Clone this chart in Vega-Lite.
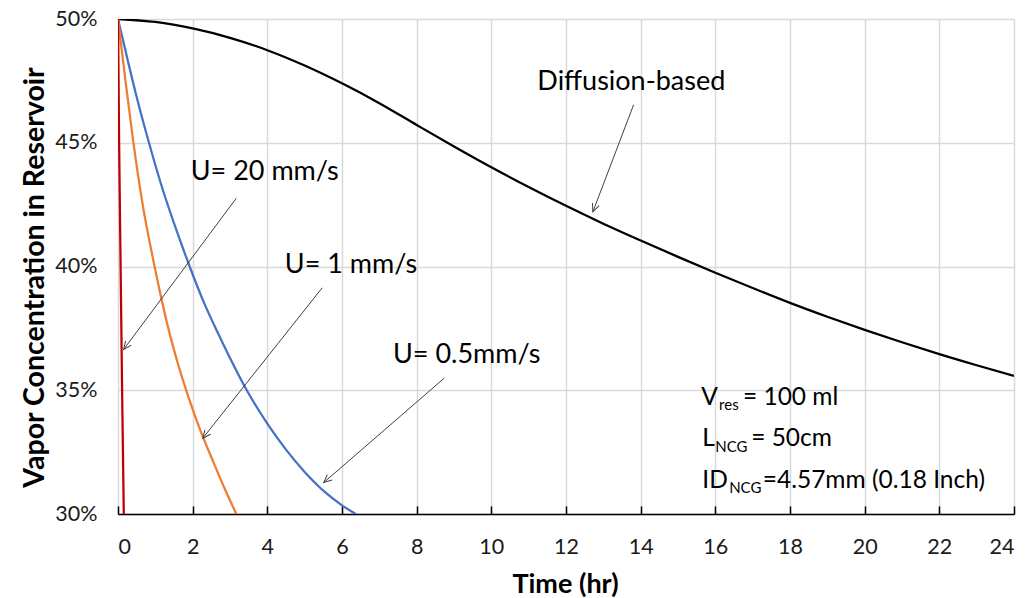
{
  "$schema": "https://vega.github.io/schema/vega-lite/v6.json",
  "width": 896,
  "height": 495,
  "autosize": {"type": "none"},
  "padding": {"left": 118, "top": 19, "right": 13, "bottom": 84},
  "background": "white",
  "config": {
    "view": {"stroke": null},
    "font": "Lato",
    "axis": {
      "gridColor": "#D9D9D9",
      "gridWidth": 1.5,
      "labelFont": "Lato",
      "labelFontSize": 21.5,
      "labelColor": "#1a1a1a",
      "titleFont": "Lato",
      "titleFontSize": 27,
      "titleFontWeight": "bold",
      "titleColor": "#000000"
    }
  },
  "datasets": {
    "curves": [
      {"series": "Diffusion-based", "t": 0, "c": 50},
      {"series": "Diffusion-based", "t": 1, "c": 49.88},
      {"series": "Diffusion-based", "t": 2, "c": 49.62},
      {"series": "Diffusion-based", "t": 3, "c": 49.24},
      {"series": "Diffusion-based", "t": 4, "c": 48.74},
      {"series": "Diffusion-based", "t": 5, "c": 48.12},
      {"series": "Diffusion-based", "t": 6, "c": 47.4},
      {"series": "Diffusion-based", "t": 7, "c": 46.6},
      {"series": "Diffusion-based", "t": 8, "c": 45.72},
      {"series": "Diffusion-based", "t": 9, "c": 44.85},
      {"series": "Diffusion-based", "t": 10, "c": 44.01},
      {"series": "Diffusion-based", "t": 11, "c": 43.21},
      {"series": "Diffusion-based", "t": 12, "c": 42.45},
      {"series": "Diffusion-based", "t": 13, "c": 41.73},
      {"series": "Diffusion-based", "t": 14, "c": 41.05},
      {"series": "Diffusion-based", "t": 15, "c": 40.39},
      {"series": "Diffusion-based", "t": 16, "c": 39.75},
      {"series": "Diffusion-based", "t": 17, "c": 39.13},
      {"series": "Diffusion-based", "t": 18, "c": 38.53},
      {"series": "Diffusion-based", "t": 19, "c": 37.97},
      {"series": "Diffusion-based", "t": 20, "c": 37.44},
      {"series": "Diffusion-based", "t": 21, "c": 36.94},
      {"series": "Diffusion-based", "t": 22, "c": 36.46},
      {"series": "Diffusion-based", "t": 23, "c": 36.01},
      {"series": "Diffusion-based", "t": 24, "c": 35.58},
      {"series": "U=0.5", "t": 0, "c": 50},
      {"series": "U=0.5", "t": 0.25, "c": 48.4},
      {"series": "U=0.5", "t": 0.5, "c": 46.85},
      {"series": "U=0.5", "t": 0.83, "c": 45.0},
      {"series": "U=0.5", "t": 1.2, "c": 43.1},
      {"series": "U=0.5", "t": 1.5, "c": 41.75},
      {"series": "U=0.5", "t": 1.92, "c": 40.0},
      {"series": "U=0.5", "t": 2.3, "c": 38.55},
      {"series": "U=0.5", "t": 2.68, "c": 37.3},
      {"series": "U=0.5", "t": 3.0, "c": 36.3},
      {"series": "U=0.5", "t": 3.43, "c": 35.05},
      {"series": "U=0.5", "t": 4.0, "c": 33.65},
      {"series": "U=0.5", "t": 4.5, "c": 32.6},
      {"series": "U=0.5", "t": 5.0, "c": 31.7},
      {"series": "U=0.5", "t": 5.57, "c": 30.85},
      {"series": "U=0.5", "t": 6.0, "c": 30.35},
      {"series": "U=0.5", "t": 6.37, "c": 30.0},
      {"series": "U=1", "t": 0, "c": 50},
      {"series": "U=1", "t": 0.2, "c": 47.5},
      {"series": "U=1", "t": 0.4, "c": 45.15},
      {"series": "U=1", "t": 0.65, "c": 42.6},
      {"series": "U=1", "t": 0.98, "c": 40.0},
      {"series": "U=1", "t": 1.34, "c": 37.55},
      {"series": "U=1", "t": 1.6, "c": 36.1},
      {"series": "U=1", "t": 1.87, "c": 34.8},
      {"series": "U=1", "t": 2.2, "c": 33.4},
      {"series": "U=1", "t": 2.54, "c": 32.15},
      {"series": "U=1", "t": 2.85, "c": 31.05},
      {"series": "U=1", "t": 3.17, "c": 30.0},
      {"series": "U=20", "t": 0, "c": 50},
      {"series": "U=20", "t": 0.03, "c": 45},
      {"series": "U=20", "t": 0.07, "c": 40},
      {"series": "U=20", "t": 0.11, "c": 35},
      {"series": "U=20", "t": 0.155, "c": 30}
    ],
    "arrows": [
      {"id": "diff", "t": 13.81, "c": 46.53, "t2": 12.72, "c2": 42.21},
      {"id": "u20", "t": 3.17, "c": 42.76, "t2": 0.152, "c2": 36.65},
      {"id": "u1", "t": 5.47, "c": 39.14, "t2": 2.27, "c2": 33.06},
      {"id": "u05", "t": 8.74, "c": 35.49, "t2": 5.51, "c2": 31.27}
    ],
    "labels": [
      {"text": "Diffusion-based", "t": 13.75, "c": 47.45},
      {"text": "U= 20 mm/s", "t": 3.93, "c": 43.83},
      {"text": "U= 1 mm/s", "t": 6.24, "c": 40.06},
      {"text": "U= 0.5mm/s", "t": 9.34, "c": 36.42}
    ],
    "params": [
      {"text": "V", "t": 15.62, "c": 34.40},
      {"text": "= 100 ml", "t": 16.74, "c": 34.40},
      {"text": "L", "t": 15.65, "c": 32.75},
      {"text": "= 50cm", "t": 16.96, "c": 32.75},
      {"text": "ID", "t": 15.65, "c": 31.04},
      {"text": "=4.57mm (0.18 Inch)", "t": 17.27, "c": 31.04}
    ],
    "subs": [
      {"text": "res", "t": 16.1, "c": 34.2},
      {"text": "NCG", "t": 16.0, "c": 32.52},
      {"text": "NCG", "t": 16.37, "c": 30.84}
    ]
  },
  "layer": [
    {
      "data": {"name": "curves"},
      "mark": {"type": "line", "strokeWidth": 2.25, "interpolate": "monotone", "clip": true},
      "encoding": {
        "x": {
          "field": "t", "type": "quantitative",
          "scale": {"domain": [0, 24], "nice": false},
          "axis": {
            "values": [0, 2, 4, 6, 8, 10, 12, 14, 16, 18, 20, 22, 24],
            "title": "Time (hr)",
            "domainColor": "#000000", "domainWidth": 1.5,
            "tickColor": "#000000", "tickWidth": 1.5, "tickSize": -8,
            "labelPadding": 30,
            "titleX": 447, "titleY": 70, "titleBaseline": "middle"
          }
        },
        "y": {
          "field": "c", "type": "quantitative",
          "scale": {"domain": [30, 50], "nice": false},
          "axis": {
            "values": [30, 35, 40, 45, 50],
            "labelExpr": "datum.value + '%'",
            "title": "Vapor Concentration in Reservoir",
            "titleFontSize": 28.5,
            "domain": false, "ticks": false,
            "labelPadding": 21,
            "titleX": -84, "titleY": 258, "titleBaseline": "middle"
          }
        },
        "color": {
          "field": "series", "type": "nominal",
          "scale": {
            "domain": ["Diffusion-based", "U=0.5", "U=1", "U=20"],
            "range": ["#000000", "#4472C4", "#ED7D31", "#C00000"]
          },
          "legend": null
        },
        "order": {"field": "t", "type": "quantitative"}
      }
    },
    {
      "data": {"name": "arrows"},
      "mark": {"type": "rule", "color": "#404040", "strokeWidth": 1},
      "encoding": {
        "x": {"field": "t", "type": "quantitative"},
        "y": {"field": "c", "type": "quantitative"},
        "x2": {"field": "t2"},
        "y2": {"field": "c2"}
      }
    },
    {
      "data": {"name": "arrows"},
      "transform": [{"filter": "datum.id == 'diff'"}],
      "mark": {"type": "point", "shape": "M-0.45,1L0,0L0.45,1", "filled": false, "stroke": "#404040", "strokeWidth": 1, "size": 256, "angle": 201, "opacity": 1},
      "encoding": {
        "x": {"field": "t2", "type": "quantitative"},
        "y": {"field": "c2", "type": "quantitative"}
      }
    },
    {
      "data": {"name": "arrows"},
      "transform": [{"filter": "datum.id == 'u20'"}],
      "mark": {"type": "point", "shape": "M-0.45,1L0,0L0.45,1", "filled": false, "stroke": "#404040", "strokeWidth": 1, "size": 256, "angle": 216.7, "opacity": 1},
      "encoding": {
        "x": {"field": "t2", "type": "quantitative"},
        "y": {"field": "c2", "type": "quantitative"}
      }
    },
    {
      "data": {"name": "arrows"},
      "transform": [{"filter": "datum.id == 'u1'"}],
      "mark": {"type": "point", "shape": "M-0.45,1L0,0L0.45,1", "filled": false, "stroke": "#404040", "strokeWidth": 1, "size": 256, "angle": 218.4, "opacity": 1},
      "encoding": {
        "x": {"field": "t2", "type": "quantitative"},
        "y": {"field": "c2", "type": "quantitative"}
      }
    },
    {
      "data": {"name": "arrows"},
      "transform": [{"filter": "datum.id == 'u05'"}],
      "mark": {"type": "point", "shape": "M-0.45,1L0,0L0.45,1", "filled": false, "stroke": "#404040", "strokeWidth": 1, "size": 256, "angle": 229.1, "opacity": 1},
      "encoding": {
        "x": {"field": "t2", "type": "quantitative"},
        "y": {"field": "c2", "type": "quantitative"}
      }
    },
    {
      "data": {"name": "labels"},
      "mark": {"type": "text", "font": "Lato", "fontSize": 27, "color": "#000000", "align": "center", "baseline": "middle"},
      "encoding": {
        "x": {"field": "t", "type": "quantitative"},
        "y": {"field": "c", "type": "quantitative"},
        "text": {"field": "text"}
      }
    },
    {
      "data": {"name": "params"},
      "mark": {"type": "text", "font": "Lato", "fontSize": 24.5, "color": "#000000", "align": "left", "baseline": "alphabetic"},
      "encoding": {
        "x": {"field": "t", "type": "quantitative"},
        "y": {"field": "c", "type": "quantitative"},
        "text": {"field": "text"}
      }
    },
    {
      "data": {"name": "subs"},
      "mark": {"type": "text", "font": "Lato", "fontSize": 15, "color": "#000000", "align": "left", "baseline": "alphabetic"},
      "encoding": {
        "x": {"field": "t", "type": "quantitative"},
        "y": {"field": "c", "type": "quantitative"},
        "text": {"field": "text"}
      }
    }
  ]
}
